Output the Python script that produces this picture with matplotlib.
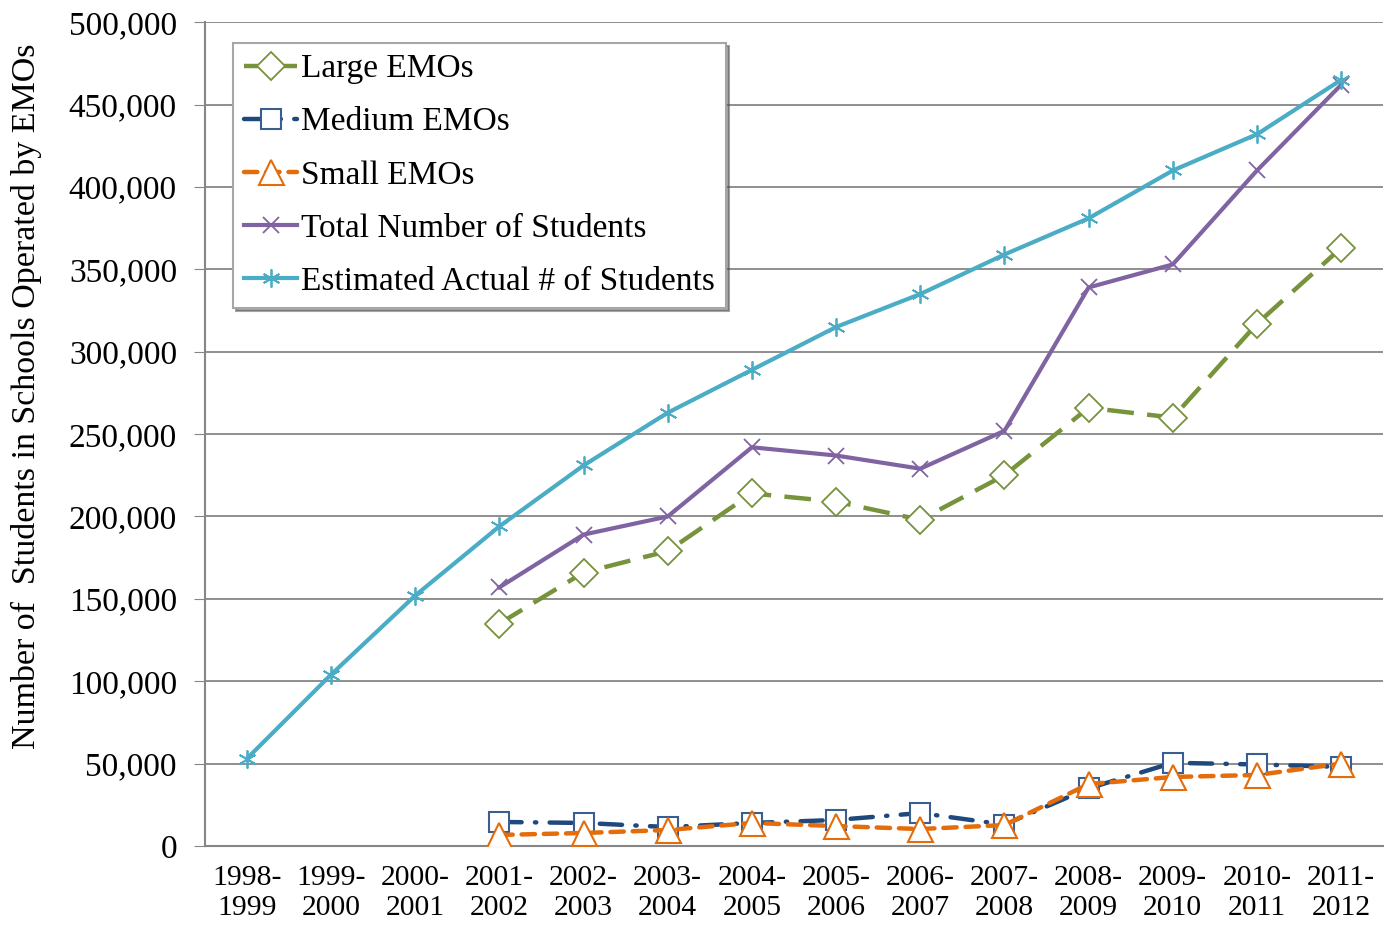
import matplotlib
matplotlib.use('Agg')
import matplotlib.pyplot as plt
from matplotlib.ticker import FuncFormatter, MultipleLocator

plt.rcParams['font.family'] = ['Liberation Serif', 'DejaVu Serif']

# ── data ──────────────────────────────────────────────────────
years = ['1998-\n1999', '1999-\n2000', '2000-\n2001', '2001-\n2002', '2002-\n2003',
         '2003-\n2004', '2004-\n2005', '2005-\n2006', '2006-\n2007', '2007-\n2008',
         '2008-\n2009', '2009-\n2010', '2010-\n2011', '2011-\n2012']

estimated = [53000, 104000, 152000, 194000, 231000, 263000, 289000,
             315000, 335000, 359000, 381000, 410000, 432000, 465000]
# EMO series start in 2001-2002
total  = [157000, 189000, 200000, 242000, 237000, 229000, 252000,
          339000, 353000, 410000, 462000]
large  = [135000, 166000, 179000, 214000, 209000, 198000, 225000,
          266000, 260000, 317000, 363000]
medium = [14600, 14000, 11500, 14000, 15800, 20000, 13000,
          35000, 50500, 49500, 48000]
small  = [6700, 7900, 9700, 14000, 12100, 10300, 12700,
          37600, 41900, 43100, 50000]

x_all = list(range(len(years)))
x_emo = x_all[3:]

fig = plt.figure(figsize=(13.93, 9.25), dpi=100)
ax = fig.add_axes([0.147, 0.0854, 0.846, 0.8906])

ax.plot(x_emo, large, color='#77933C', lw=3.2, linestyle=(0, (6, 3)),
        marker='D', ms=14, mfc='white', mec='#77933C', mew=1.3, label='Large EMOs', zorder=4)
ax.plot(x_emo, medium, color='#1F497D', lw=3.2, linestyle=(0, (5, 3, 0.3, 3)),
        dash_capstyle='round', marker='s', ms=14, mfc='white', mec='#3B5E91', mew=1.5,
        label='Medium EMOs', zorder=4)
ax.plot(x_emo, small, color='#E46C0A', lw=3.2, linestyle=(0, (3, 2)),
        dash_capstyle='round', marker='^', ms=18, mfc='white', mec='#E46C0A', mew=1.5,
        label='Small EMOs', zorder=5)
ax.plot(x_emo, total, color='#8064A2', lw=3, marker='x', ms=12, mec='#8064A2',
        mew=1.3, label='Total Number of Students', zorder=3)
ax.plot(x_all, estimated, color='#4BACC6', lw=3, marker=(6, 2, 0), ms=13, mec='#4BACC6',
        mew=1.3, label='Estimated Actual # of Students', zorder=3)

ax.set_xlim(-0.5, 13.5)
ax.set_ylim(0, 500000)
ax.yaxis.set_major_locator(MultipleLocator(50000))
ax.yaxis.set_major_formatter(FuncFormatter(lambda v, p: f'{int(v):,}'))
ax.set_xticks(x_all)
ax.set_xticklabels(years, fontsize=21.3, linespacing=1.2)
ax.tick_params(axis='x', length=0, pad=14)
ax.tick_params(axis='y', labelsize=24, length=8, color='#868686', pad=12)

ax.grid(axis='y', color='#868686', lw=1.3)
ax.set_axisbelow(True)
for s in ['top', 'right']:
    ax.spines[s].set_visible(False)
for s in ['left', 'bottom']:
    ax.spines[s].set_color('#868686')
    ax.spines[s].set_linewidth(1.5)

ax.set_ylabel('Number of  Students in Schools Operated by EMOs', fontsize=24.5)
ax.yaxis.set_label_coords(-0.138, 0.546)

leg = ax.legend(loc='upper left', bbox_to_anchor=(0.024, 0.975), fontsize=24,
                frameon=True, fancybox=False, shadow=True, handlelength=1.6,
                handletextpad=0.12, labelspacing=0.68, borderpad=0.33, borderaxespad=0)
leg.get_frame().set_edgecolor('#A6A6A6')
leg.get_frame().set_linewidth(1.5)

plt.savefig('out.png', dpi=100)
plt.close()
